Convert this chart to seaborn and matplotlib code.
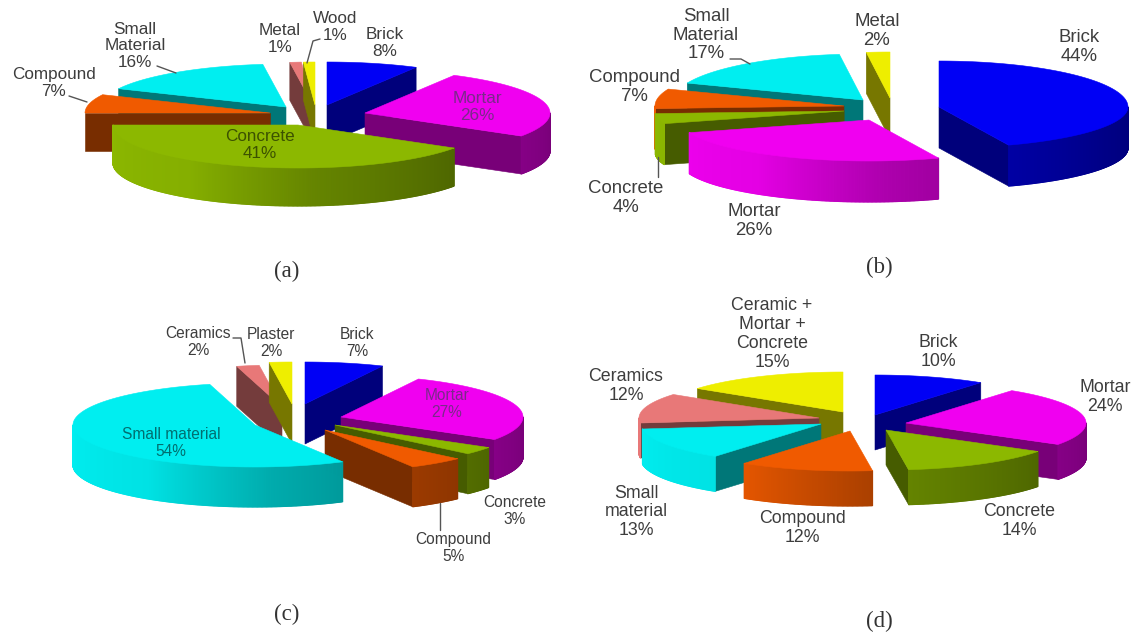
import numpy as np
import matplotlib
matplotlib.use("Agg")
import matplotlib.pyplot as plt
import seaborn as sns
from matplotlib.collections import PolyCollection
from matplotlib.colors import to_rgb

# Composition of each sample, in percent, clockwise from twelve o'clock
A_NAMES = ["Brick", "Mortar", "Concrete", "Compound", "Small\nMaterial", "Metal", "Wood"]
A_VALUES = [8, 26, 41, 7, 16, 1, 1]
B_NAMES = ["Brick", "Mortar", "Concrete", "Compound", "Small\nMaterial", "Metal"]
B_VALUES = [44, 26, 4, 7, 17, 2]
C_NAMES = ["Brick", "Mortar", "Concrete", "Compound", "Small material", "Ceramics", "Plaster"]
C_VALUES = [7, 27, 3, 5, 54, 2, 2]
D_NAMES = ["Brick", "Mortar", "Concrete", "Compound", "Small\nmaterial", "Ceramics",
           "Ceramic +\nMortar +\nConcrete"]
D_VALUES = [10, 24, 14, 12, 13, 12, 15]

BLUE, MAGENTA, GREEN, ORANGE = "#0000f5", "#f000f0", "#8cb800", "#f05a00"
CYAN, PINK, YELLOW = "#00eef0", "#e87878", "#eeee00"
A_COLORS = [BLUE, MAGENTA, GREEN, ORANGE, CYAN, PINK, YELLOW]
B_COLORS = [BLUE, MAGENTA, GREEN, ORANGE, CYAN, YELLOW]
C_COLORS = A_COLORS
D_COLORS = A_COLORS

GRAY = "#3d3d3d"
PANELS = [
    dict(names=A_NAMES, values=A_VALUES, colors=A_COLORS, rx=185, ry=43, ry_back=43, depth=38, fs=12.3,
         tips=[(327, 105), (365, 113), (298, 125), (270, 113), (286, 107), (313, 105), (315, 105)],
         order=[5, 6, 0, 4, 3, 1, 2],
         text=[(385, 43), (477, 107), (260, 145), (54, 83), (135, 46), (280, 39), (335, 27)],
         ink=[GRAY, "#7a2a8a", "#3c5200", GRAY, GRAY, GRAY, GRAY],
         leaders=[[(157, 66), (176, 73)], [(69, 96), (87, 102)], [(320, 39), (313, 41), (307, 63)]],
         caption="(a)", cap_xy=(287, 271)),
    dict(names=B_NAMES, values=B_VALUES, colors=B_COLORS, rx=189, ry=41, ry_back=46, depth=41, fs=13.4,
         tips=[(939, 107), (869, 120), (844, 111), (844, 106), (863, 100), (890, 98)],
         order=[5, 4, 3, 2, 1, 0],
         text=[(1079, 47), (754, 221), (626, 198), (634, 87), (706, 35), (877, 31)],
         ink=[GRAY] * 6,
         leaders=[[(730, 59), (741, 59), (750, 64)], [(658, 157), (658, 177)]],
         caption="(b)", cap_xy=(879, 267)),
    dict(names=C_NAMES, values=C_VALUES, colors=C_COLORS, rx=182, ry=42, ry_back=42, depth=40, fs=11.2,
         tips=[(305, 404), (341, 417), (335, 425), (325, 430), (255, 425), (282, 407), (292, 404)],
         order=[5, 6, 0, 1, 2, 3, 4],
         text=[(357, 343), (447, 404), (515, 511), (453, 548), (171, 443), (198, 342), (271, 343)],
         ink=[GRAY, "#7a2a8a", GRAY, GRAY, "#006f70", GRAY, GRAY],
         leaders=[[(233, 338), (241, 338), (245, 363)], [(440, 503), (440, 530)]],
         caption="(c)", cap_xy=(287, 614)),
    dict(names=D_NAMES, values=D_VALUES, colors=D_COLORS, rx=180, ry=40, ry_back=40, depth=35, fs=12.8,
         tips=[(875, 415), (906, 423), (886, 430), (850, 431), (821, 424), (819, 418), (843, 412)],
         order=[6, 5, 4, 3, 0, 1, 2],
         text=[(938, 352), (1105, 397), (1019, 521), (802, 528), (636, 512), (626, 386), (772, 334)],
         ink=[GRAY] * 7,
         leaders=[],
         caption="(d)", cap_xy=(879, 621)),
]


def shaded(color, factor):
    return tuple(np.clip(np.array(to_rgb(color)) * factor, 0, 1))


def wall_light(theta):
    # Outer rim is lit from the left and falls into shade on the right
    return np.interp(theta, [90, 120, 175, 216, 270], [0.50, 0.55, 0.72, 0.95, 1.0])


def draw_slice(ax, tip, start, end, color, rx, ry, ry_back, depth, z):
    x0, y0 = tip
    thetas = np.linspace(start, end, max(int((end - start) / 0.5), 2) + 1)

    def rim(t):
        r = np.radians(t)
        c = np.cos(r)
        return x0 + rx * np.sin(r), y0 - np.where(c > 0, ry_back, ry) * c

    side = shaded(color, 0.5)
    # Radial faces turned toward the viewer
    for angle, visible in ((start, np.sin(np.radians(start)) < -1e-6),
                           (end, np.sin(np.radians(end)) > 1e-6)):
        if visible:
            ex, ey = rim(angle)
            ax.fill([x0, ex, ex, x0], [y0, ey, ey + depth, y0 + depth],
                    color=side, lw=0.4, zorder=z)

    # Rim, split into narrow strips so the shading can vary around it
    lo, hi = max(start, 90), min(end, 270)
    if hi > lo:
        ts = np.linspace(lo, hi, max(int((hi - lo) / 0.4), 2) + 1)
        quads, tones = [], []
        for a, b in zip(ts[:-1], ts[1:]):
            xa, ya = rim(a)
            xb, yb = rim(b)
            quads.append([(xa, ya), (xb, yb), (xb, yb + depth), (xa, ya + depth)])
            tones.append(shaded(color, wall_light((a + b) / 2)))
        ax.add_collection(PolyCollection(quads, facecolors=tones, edgecolors=tones,
                                         linewidths=0.8, zorder=z))

    # Top face
    xs, ys = rim(thetas)
    ax.fill(np.r_[x0, xs], np.r_[y0, ys], color=color, lw=0.4, zorder=z)


sns.set_theme(style="white")
plt.rcParams["font.family"] = ["Liberation Sans", "DejaVu Sans"]

fig = plt.figure(figsize=(11.39, 6.34), dpi=100, facecolor="white")
ax = fig.add_axes([0, 0, 1, 1])
ax.set_xlim(0, 1139)
ax.set_ylim(634, 0)
ax.axis("off")

for panel in PANELS:
    values = np.asarray(panel["values"], dtype=float)
    edges = np.r_[0, np.cumsum(values)] / values.sum() * 360
    z = 2.0
    for i in panel["order"]:
        draw_slice(ax, panel["tips"][i], edges[i], edges[i + 1], panel["colors"][i],
                   panel["rx"], panel["ry"], panel["ry_back"], panel["depth"], z)
        z += 0.01
    for line in panel["leaders"]:
        lx, ly = zip(*line)
        ax.plot(lx, ly, color="#555555", lw=1.0, zorder=3)
    for name, value, (tx, ty), ink in zip(panel["names"], panel["values"], panel["text"], panel["ink"]):
        ax.text(tx, ty, f"{name}\n{value}%", ha="center", va="center", ma="center",
                fontsize=panel["fs"], color=ink, linespacing=1.14, zorder=4)
    ax.text(*panel["cap_xy"], panel["caption"], ha="center", va="center",
            fontsize=16.5, color="#333333", family="Liberation Serif", zorder=4)

sns.despine(ax=ax, left=True, bottom=True)
fig.savefig("out.png", dpi=100)
